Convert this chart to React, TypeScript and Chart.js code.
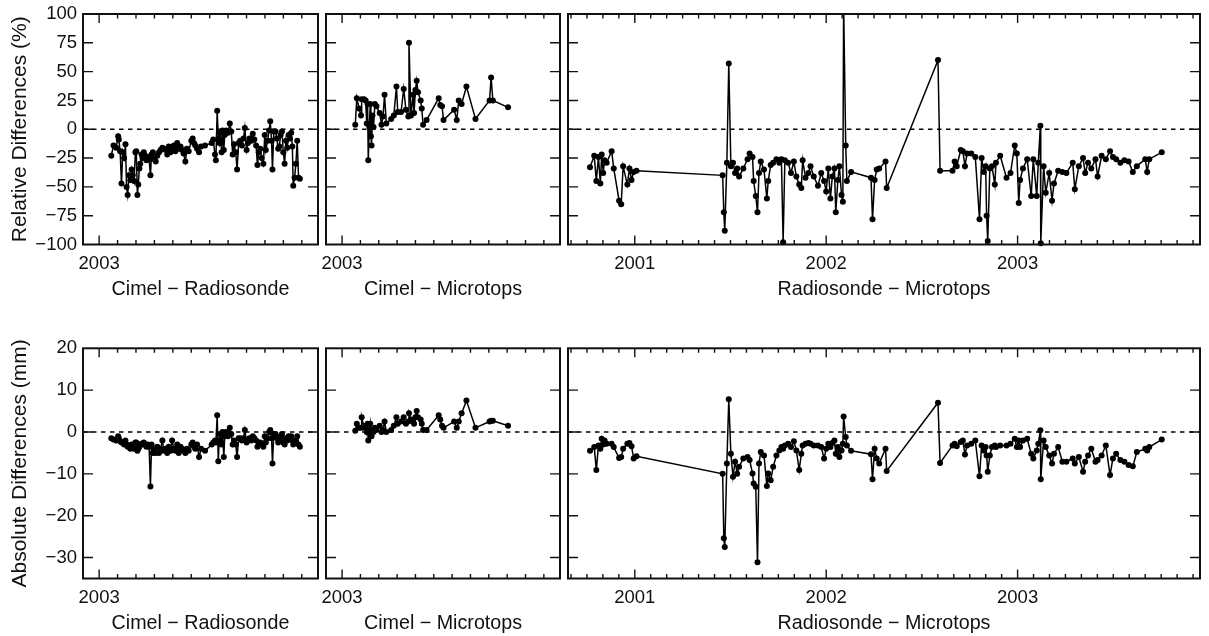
import React, { useEffect, useRef } from "react";
import { Chart, registerables } from "chart.js";

Chart.register(...registerables);

const FONT = "'Liberation Sans', Arial, Helvetica, sans-serif";

// ---------- Cimel − Radiosonde (decimal year) ----------
const datesCR = [
  2003.055, 2003.065, 2003.077, 2003.086, 2003.089, 2003.095, 2003.101, 2003.107, 2003.113, 2003.119,
  2003.124, 2003.129, 2003.135, 2003.141, 2003.147, 2003.152, 2003.158, 2003.164, 2003.168, 2003.173,
  2003.177, 2003.182, 2003.186, 2003.192, 2003.196, 2003.202, 2003.208, 2003.214, 2003.220, 2003.226,
  2003.232, 2003.237, 2003.243, 2003.249, 2003.256, 2003.263, 2003.271, 2003.278, 2003.286, 2003.293,
  2003.301, 2003.308, 2003.315, 2003.323, 2003.330, 2003.338, 2003.345, 2003.353, 2003.360, 2003.368,
  2003.375, 2003.382, 2003.390, 2003.397, 2003.405, 2003.417, 2003.423, 2003.429, 2003.435, 2003.443,
  2003.452, 2003.461, 2003.479, 2003.509, 2003.516, 2003.524, 2003.528, 2003.534, 2003.539, 2003.543,
  2003.548, 2003.554, 2003.558, 2003.564, 2003.568, 2003.574, 2003.583, 2003.591, 2003.598, 2003.604,
  2003.610, 2003.618, 2003.624, 2003.631, 2003.638, 2003.646, 2003.653, 2003.659, 2003.667, 2003.673,
  2003.680, 2003.688, 2003.695, 2003.702, 2003.710, 2003.716, 2003.722, 2003.729, 2003.735, 2003.743,
  2003.749, 2003.754, 2003.762, 2003.769, 2003.774, 2003.780, 2003.784, 2003.790, 2003.798, 2003.804,
  2003.810, 2003.815, 2003.821, 2003.827, 2003.833, 2003.839, 2003.845, 2003.851, 2003.857, 2003.863,
  2003.869, 2003.874, 2003.878, 2003.884, 2003.890, 2003.896, 2003.902, 2003.908,
];
const relCR = [
  -23, -14, -16, -6, -9, -19, -47, -20, -25, -13,
  -50, -57, -40, -44, -35, -40, -45, -20, -19, -57,
  -48, -34, -30, -22, -25, -20, -23, -27, -24, -26,
  -40, -22, -20, -26, -28, -23, -20, -18, -16, -17,
  -18, -22, -15, -20, -18, -14, -19, -12, -17, -15,
  -18, -21, -28, -17, -19, -10, -8, -12, -14, -17,
  -20, -15, -14, -12, -9, -22, -27, 16, -8, -12,
  -3, -20, -1, -18, -5, -1, -3, 5, -2, -22,
  -13, -20, -35, -12, -10, -14, -8, 1, -18, -12,
  -8, -10, -4, -9, -14, -31, -20, -17, -25, -30,
  -5, -18, -10, -1, 7, -10, -35, -2, -2, -8,
  -17, -15, -5, -2, -20, -30, -10, -16, -5, -8,
  -3, -15, -49, -42, -30, -10, -42, -43,
];
const absCR = [
  -1.5, -1.8, -2, -1, -1.5, -2.2, -2.5, -2.5, -3, -2,
  -3, -3.5, -3.2, -4, -3, -3.5, -4, -2.5, -2.5, -4.5,
  -4, -3.5, -3, -2.8, -3, -2.5, -3, -3.5, -3, -3.5,
  -13, -3, -5, -4, -5, -3.5, -5, -4, -2, -4.5,
  -4, -5, -3.5, -4.5, -2, -4, -4.5, -3, -5, -3.5,
  -4, -4.5, -5, -4, -4.5, -3, -2.5, -3.5, -4, -3,
  -6, -4, -4.5, -3, -2.5, -2, -2.5, 4, -7, -2,
  -0.5, -3, 0, -6, -1, 0, -1, 1, -0.5, -3,
  -2, -3, -6, -1.5, -1.5, -2, -1.5, 0.5, -2.5, -2,
  -1.5, -2, -1, -1.5, -2, -3.5, -2.5, -2.5, -3, -3.5,
  -1, -2.5, -1.5, 0, 0.5, -1.5, -7.5, -0.5, -0.5, -1.5,
  -2.5, -2, -1, -0.5, -2.5, -3, -1.5, -2, -1, -1.5,
  -1, -2, -3, -2.5, -2, -1, -3, -3.5,
];

// ---------- Cimel − Microtops ----------
const datesCM = [
  2003.060, 2003.067, 2003.077, 2003.086, 2003.089, 2003.100, 2003.107, 2003.112, 2003.116, 2003.119,
  2003.124, 2003.128, 2003.131, 2003.134, 2003.138, 2003.143, 2003.149, 2003.156, 2003.171, 2003.179,
  2003.186, 2003.193, 2003.201, 2003.223, 2003.235, 2003.247, 2003.253, 2003.268, 2003.280, 2003.290,
  2003.301, 2003.304, 2003.313, 2003.323, 2003.327, 2003.333, 2003.339, 2003.345, 2003.357, 2003.362,
  2003.368, 2003.384, 2003.439, 2003.446, 2003.454, 2003.461, 2003.509, 2003.521, 2003.530, 2003.543,
  2003.565, 2003.606, 2003.670, 2003.677, 2003.685, 2003.754,
];
const relCM = [
  4, 27, 18, 12, 26, 26, 25, 5, 22, -27,
  2, 22, -6, -14, 12, 2, 22, 20, 14, 4,
  11, 30, 5, 9, 12, 37, 15, 15, 35, 17,
  11, 75, 12, 30, 14, 34, 42, 32, 25, 18,
  4, 8, 27, 21, 20, 8, 17, 8, 25, 22,
  37, 9, 25, 45, 25, 19,
];
const absCM = [
  0.3, 2, 1, 1, 3.5, 1, 1.5, 0, 2, -2,
  0.5, 2, -0.5, -1, 0.5, 0, 1, 0.5, 1.5, 0,
  0.5, 2.5, 0, 0.5, 1.5, 3.5, 2, 2.5, 3.5, 2,
  2.5, 4.5, 3, 2.5, 2, 3.5, 5, 3.5, 3, 2,
  0.5, 0.5, 4, 3, 1.5, 1, 2.5, 1, 2.5, 4.5,
  7.5, 1, 2.5, 2.7, 2.7, 1.5,
];

// ---------- Radiosonde − Microtops ----------
const datesRM = [
  2000.766, 2000.788, 2000.799, 2000.810, 2000.820, 2000.827, 2000.835, 2000.842, 2000.853, 2000.879,
  2000.890, 2000.918, 2000.929, 2000.939, 2000.961, 2000.972, 2000.983, 2000.994, 2001.009, 2001.459,
  2001.465, 2001.470, 2001.481, 2001.491, 2001.502, 2001.513, 2001.524, 2001.535, 2001.545, 2001.567,
  2001.589, 2001.600, 2001.615, 2001.621, 2001.632, 2001.641, 2001.649, 2001.658, 2001.675, 2001.690,
  2001.697, 2001.710, 2001.723, 2001.740, 2001.755, 2001.766, 2001.775, 2001.784, 2001.801, 2001.816,
  2001.831, 2001.844, 2001.859, 2001.870, 2001.877, 2001.892, 2001.907, 2001.918, 2001.935, 2001.957,
  2001.974, 2001.989, 2002.000, 2002.011, 2002.022, 2002.032, 2002.043, 2002.050, 2002.061, 2002.069,
  2002.080, 2002.087, 2002.091, 2002.102, 2002.108, 2002.130, 2002.234, 2002.242, 2002.253, 2002.264,
  2002.277, 2002.310, 2002.316, 2002.584, 2002.595, 2002.660, 2002.671, 2002.682, 2002.703, 2002.714,
  2002.725, 2002.736, 2002.758, 2002.779, 2002.801, 2002.812, 2002.823, 2002.833, 2002.838, 2002.844,
  2002.855, 2002.866, 2002.881, 2002.887, 2002.909, 2002.942, 2002.963, 2002.985, 2002.996, 2003.006,
  2003.013, 2003.028, 2003.050, 2003.071, 2003.082, 2003.100, 2003.108, 2003.119, 2003.121, 2003.136,
  2003.147, 2003.165, 2003.180, 2003.190, 2003.212, 2003.234, 2003.255, 2003.288, 2003.299, 2003.320,
  2003.342, 2003.353, 2003.368, 2003.385, 2003.407, 2003.418, 2003.439, 2003.461, 2003.483, 2003.498,
  2003.515, 2003.537, 2003.558, 2003.580, 2003.602, 2003.623, 2003.667, 2003.677, 2003.688, 2003.753,
];
const relRM = [
  -33, -23, -45, -24, -47, -22, -38, -27, -29, -19,
  -34, -62, -65, -32, -48, -34, -44, -37, -36, -40,
  -72, -88, -29, 57, -32, -29, -38, -34, -41, -34,
  -26, -21, -24, -45, -58, -72, -38, -28, -35, -60,
  -45, -31, -29, -26, -29, -26, -98, -27, -29, -38,
  -28, -41, -48, -51, -27, -42, -38, -32, -41, -49,
  -38, -45, -54, -34, -60, -41, -34, -72, -44, -32,
  -57, -63, 110, -14, -45, -37, -42, -78, -44, -35,
  -34, -28, -51, 60, -36, -36, -28, -32, -18, -19,
  -32, -21, -21, -24, -78, -25, -37, -32, -75, -97,
  -34, -32, -48, -29, -23, -42, -38, -14, -21, -64,
  -44, -34, -26, -58, -26, -58, -29, 3, -99, -32,
  -55, -38, -62, -47, -36, -37, -38, -29, -52, -32,
  -25, -38, -29, -34, -26, -41, -23, -26, -19, -24,
  -26, -29, -27, -28, -37, -32, -26, -37, -26, -20,
];
const absRM = [
  -4.5, -3.6, -9.1, -3.2, -4, -1.6, -3, -2, -2.8, -2.8,
  -3.6, -6.2, -6, -4, -2.8, -2.6, -3.4, -6.3, -5.8, -10,
  -25.4, -27.5, -7.5, 7.8, -5.2, -10.7, -7.1, -10, -8.3, -6.3,
  -6, -6.7, -9.9, -12.3, -13.1, -31.1, -7.5, -4.8, -5.6, -12.9,
  -9.9, -11.5, -8.3, -5.6, -4.4, -3.6, -4, -3.2, -2.8, -3.6,
  -2.2, -4.4, -9.1, -5.2, -3.2, -2.8, -2.6, -2.8, -3.2, -3.2,
  -3.6, -6.3, -4, -2.8, -3.6, -2.6, -2, -5.2, -3.6, -6,
  -4.4, -2.8, 3.7, -1.2, -3.2, -4.5, -5.3, -11.3, -4, -6.3,
  -7.5, -4, -9.3, 7, -7.4, -3.2, -2.8, -3.4, -2.4, -2,
  -5.4, -3.2, -2.8, -2, -10.6, -3.2, -4.4, -3.6, -5.6, -9.5,
  -5.6, -3.6, -3.2, -3.6, -3.2, -3.2, -2.8, -1.6, -3.6, -2,
  -3.6, -2, -1.6, -5.2, -6.3, -4.4, -2.8, 0.4, -11.3, -2,
  -3.6, -5.6, -7.5, -5.2, -3.6, -7.1, -7.1, -6.3, -7.5, -6,
  -9.5, -7.1, -5.6, -4, -7.1, -6.7, -5.6, -3.2, -10.3, -6.3,
  -5.2, -6.7, -7.1, -7.9, -8.2, -4.8, -4, -4.4, -3.6, -1.8,
];

// ---------- axes ----------
const relTicks = [-100, -75, -50, -25, 0, 25, 50, 75, 100];
const absTicks = [-30, -20, -10, 0, 10, 20];
const relRange = [-100, 100];
const absRange = [-35, 20];
const shortRange = [2002.927, 2003.99];
const longRange = [2000.651, 2003.953];
const shortYears = [2003];
const longYears = [2001, 2002, 2003];
const titleCR = "Cimel \u2212 Radiosonde";
const titleCM = "Cimel \u2212 Microtops";
const titleRM = "Radiosonde \u2212 Microtops";
const yTitleRel = "Relative Differences (%)";
const yTitleAbs = "Absolute Differences (mm)";

type Spec = {
  left: number; top: number; width: number; height: number;
  padL: number; padR: number; padT: number; xHeight: number; yWidth: number;
  xRange: number[]; yRange: number[]; yTicks: number[]; years: number[];
  xTitle: string; yTitle?: string; dates: number[]; values: number[];
};

const TOP = { top: 0, height: 302, padT: 14, xHeight: 57.5 };
const BOT = { top: 318, height: 318, padT: 30.3, xHeight: 57.5 };

const specs: Spec[] = [
  { ...TOP, left: 0, width: 322, padL: 0, padR: 1, yWidth: 83, xRange: shortRange, yRange: relRange, yTicks: relTicks, years: shortYears, xTitle: titleCR, yTitle: yTitleRel, dates: datesCR, values: relCR },
  { ...TOP, left: 322, width: 242, padL: 1.3, padR: 2.3, yWidth: 0, xRange: shortRange, yRange: relRange, yTicks: relTicks, years: shortYears, xTitle: titleCM, dates: datesCM, values: relCM },
  { ...TOP, left: 564, width: 645, padL: 2, padR: 9, yWidth: 0, xRange: longRange, yRange: relRange, yTicks: relTicks, years: longYears, xTitle: titleRM, dates: datesRM, values: relRM },
  { ...BOT, left: 0, width: 322, padL: 0, padR: 1, yWidth: 83, xRange: shortRange, yRange: absRange, yTicks: absTicks, years: shortYears, xTitle: titleCR, yTitle: yTitleAbs, dates: datesCR, values: absCR },
  { ...BOT, left: 322, width: 242, padL: 1.3, padR: 2.3, yWidth: 0, xRange: shortRange, yRange: absRange, yTicks: absTicks, years: shortYears, xTitle: titleCM, dates: datesCM, values: absCM },
  { ...BOT, left: 564, width: 645, padL: 2, padR: 9, yWidth: 0, xRange: longRange, yRange: absRange, yTicks: absTicks, years: longYears, xTitle: titleRM, dates: datesRM, values: absRM },
];

const fmt = (v: number) => (v < 0 ? "\u2212" + Math.abs(v) : String(v));

function makeChart(canvas: HTMLCanvasElement, s: Spec) {
  const framePlugin = {
    id: "frame",
    beforeDatasetsDraw(chart: any) {
      const { ctx, chartArea: a, scales } = chart;
      const y0 = scales.y.getPixelForValue(0);
      ctx.save();
      ctx.strokeStyle = "#000";
      ctx.lineWidth = 1.3;
      ctx.setLineDash([4.5, 4.5]);
      ctx.beginPath();
      ctx.moveTo(a.left, y0);
      ctx.lineTo(a.right, y0);
      ctx.stroke();
      ctx.restore();
    },
    afterDraw(chart: any) {
      const { ctx, chartArea: a, scales } = chart;
      const x = scales.x;
      const y = scales.y;
      ctx.save();
      ctx.strokeStyle = "#111";
      ctx.lineWidth = 1.4;
      ctx.beginPath();
      for (const v of s.yTicks) {
        const py = y.getPixelForValue(v);
        if (py <= a.top + 1 || py >= a.bottom - 1) continue;
        ctx.moveTo(a.left, py);
        ctx.lineTo(a.left + 10, py);
        ctx.moveTo(a.right, py);
        ctx.lineTo(a.right - 10, py);
      }
      for (let m = Math.ceil(x.min * 12); m <= Math.floor(x.max * 12); m++) {
        const px = x.getPixelForValue(m / 12);
        const len = m % 12 === 0 ? 9 : 4.5;
        ctx.moveTo(px, a.bottom);
        ctx.lineTo(px, a.bottom - len);
        ctx.moveTo(px, a.top);
        ctx.lineTo(px, a.top + len);
      }
      ctx.stroke();
      ctx.lineWidth = 2;
      ctx.strokeRect(a.left, a.top, a.right - a.left, a.bottom - a.top);
      ctx.restore();
    },
  };

  return new Chart(canvas, {
    type: "line",
    data: {
      datasets: [
        {
          data: s.dates.map((d, i) => ({ x: d, y: s.values[i] })),
          borderColor: "#000",
          backgroundColor: "#000",
          borderWidth: 1.5,
          pointRadius: 3,
          pointBorderWidth: 0,
          pointBackgroundColor: "#000",
          tension: 0,
          clip: { left: 4, right: 4, top: 0, bottom: 4 } as any,
        },
      ],
    },
    options: {
      animation: false,
      responsive: false,
      maintainAspectRatio: false,
      layout: { padding: { left: s.padL, right: s.padR, top: s.padT, bottom: 0 } },
      plugins: { legend: { display: false }, tooltip: { enabled: false } },
      scales: {
        x: {
          type: "linear",
          min: s.xRange[0],
          max: s.xRange[1],
          position: "bottom",
          grid: { display: false, drawTicks: false },
          border: { display: false },
          ticks: {
            color: "#111",
            font: { family: FONT, size: 18.5 },
            padding: 8,
            maxRotation: 0,
            autoSkip: false,
            callback: (v: any) => String(v),
          },
          afterBuildTicks: (sc: any) => {
            sc.ticks = s.years.map((v) => ({ value: v }));
          },
          afterFit: (sc: any) => {
            sc.height = s.xHeight;
            sc.paddingLeft = 0;
            sc.paddingRight = 0;
          },
          title: {
            display: true,
            text: s.xTitle,
            color: "#111",
            font: { family: FONT, size: 19.7 },
            padding: { top: 0, bottom: 1 },
          },
        },
        y: {
          type: "linear",
          min: s.yRange[0],
          max: s.yRange[1],
          position: "left",
          display: s.yWidth > 0,
          grid: { display: false, drawTicks: false },
          border: { display: false },
          ticks: {
            color: "#111",
            font: { family: FONT, size: 18.5 },
            padding: 6,
            autoSkip: false,
            callback: (v: any) => fmt(Number(v)),
          },
          afterBuildTicks: (sc: any) => {
            sc.ticks = s.yTicks.map((v) => ({ value: v }));
          },
          afterFit: (sc: any) => {
            sc.width = s.yWidth;
            sc.paddingTop = 0;
            sc.paddingBottom = 0;
          },
          title: {
            display: !!s.yTitle,
            text: s.yTitle || "",
            color: "#111",
            font: { family: FONT, size: 21 },
            padding: { top: 8, bottom: 0 },
          },
        },
      },
    },
    plugins: [framePlugin],
  } as any);
}

export default function App() {
  const refs = useRef<(HTMLCanvasElement | null)[]>([]);
  useEffect(() => {
    const charts = specs.map((s, i) => makeChart(refs.current[i] as HTMLCanvasElement, s));
    return () => charts.forEach((c) => c.destroy());
  }, []);
  return (
    <div
      style={{
        position: "absolute",
        left: 0,
        top: 0,
        width: 1209,
        height: 636,
        background: "#fff",
        overflow: "hidden",
      }}
    >
      {specs.map((s, i) => (
        <canvas
          key={i}
          ref={(el) => {
            refs.current[i] = el;
          }}
          width={s.width}
          height={s.height}
          style={{ position: "absolute", left: s.left, top: s.top, width: s.width, height: s.height }}
        />
      ))}
    </div>
  );
}
